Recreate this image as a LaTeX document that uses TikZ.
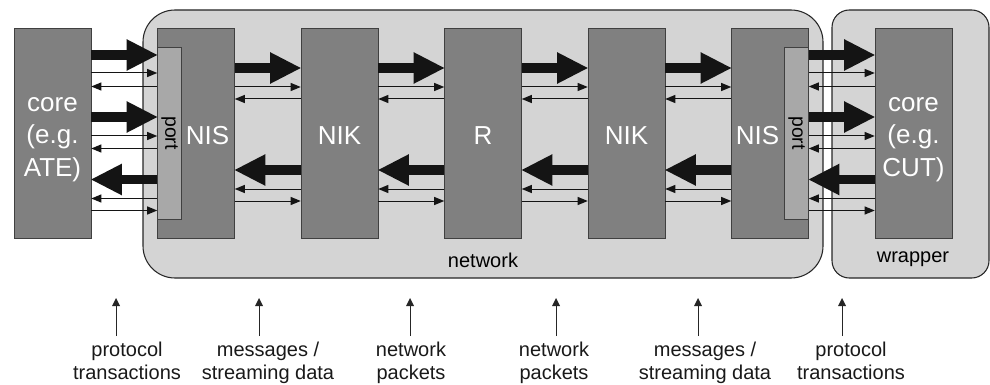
\documentclass[tikz,border=0pt]{standalone}
\usepackage{fontspec}
\setmainfont{Liberation Sans}
\usetikzlibrary{arrows.meta, positioning}
\definecolor{blkgray}{gray}{0.5}
\definecolor{portgray}{gray}{0.66}
\definecolor{framegray}{gray}{0.83}

\begin{document}
\begin{tikzpicture}[
    x=0.75pt, y=-0.75pt,
    every node/.style={font=\fontsize{15}{17.25}\selectfont},
    blk/.style={draw=black!75, fill=blkgray, minimum width=57.75pt,
                minimum height=157.5pt, inner sep=0pt},
    prt/.style={draw=black!75, fill=portgray, minimum width=18pt,
                minimum height=129pt, inner sep=0pt},
    frame/.style={draw=black!85, fill=framegray, line width=0.8pt,
                  minimum height=201pt},
    lbl/.style={text=white, align=center, font=\fontsize{19.5}{24.4}\selectfont},
    lvl/.style={align=center, inner sep=4.5pt, anchor=north, text=black!90},
    fatarr/.style={-{Triangle[length=23pt, width=23.8pt, line width=0pt]},
                   line width=6.9pt, black!92},
    thinarr/.style={-{Triangle[length=7.5pt, width=6.2pt, line width=0pt]},
                    line width=0.75pt, black!92},
    uparr/.style={-{Triangle[length=6pt, width=6pt, line width=0pt]},
                  line width=0.75pt, black!85},
]
    \useasboundingbox (0,0) rectangle (990,385);

    % Network and wrapper regions behind everything.
    \node[frame, rounded corners=24pt, minimum width=510pt] (net) at (483,144) {};
    \node[frame, rounded corners=13pt, minimum width=117.75pt] (wrp) at (910.5,144) {};
    \node (netlbl) at (483,260) {network};
    \node (wrplbl) at (913,259) {wrapper};

    % The chain of blocks, cores at both ends.
    \node[blk] (coreL) at (52.5,133) {};
    \node[blk] (nisL) at (196,133) {};
    \node[blk] (nikL) at (339.5,133) {};
    \node[blk] (rt) at (483,133) {};
    \node[blk] (nikR) at (626.5,133) {};
    \node[blk] (nisR) at (770,133) {};
    \node[blk] (coreR) at (913.5,133) {};

    % Ports on the outer sides of the two NIS.
    \node[prt, anchor=west] (portL) at (nisL.west) {};
    \node[prt, anchor=east] (portR) at (nisR.east) {};
    \node[rotate=-90, font=\fontsize{14.5}{17}\selectfont] (portLt) at (portL) {port};
    \node[rotate=-90, font=\fontsize{14.5}{17}\selectfont] (portRt) at (portR) {port};

    % Block labels.
    \node[lbl] (coreLt) at (52.5,139.5) {core\\(e.g.\\ATE)};
    \node[lbl] (nisLt) at (207.5,135.5) {NIS};
    \node[lbl] (nikLt) at (339.5,135.5) {NIK};
    \node[lbl] (rtt) at (483,135.5) {R};
    \node[lbl] (nikRt) at (626.5,135.5) {NIK};
    \node[lbl] (nisRt) at (757.5,135.5) {NIS};
    \node[lbl] (coreRt) at (913.5,139.5) {core\\(e.g.\\CUT)};

    % Links inside the network.
    \foreach \a/\b in {nisL/nikL, nikL/rt, rt/nikR, nikR/nisR} {
        \draw[fatarr] (\a.east |- 0,68) -- (\b.west |- 0,68);
        \draw[thinarr] (\a.east |- 0,87) -- (\b.west |- 0,87);
        \draw[thinarr] (\b.west |- 0,99) -- (\a.east |- 0,99);
        \draw[fatarr] (\b.west |- 0,170) -- (\a.east |- 0,170);
        \draw[thinarr] (\b.west |- 0,189) -- (\a.east |- 0,189);
        \draw[thinarr] (\a.east |- 0,201) -- (\b.west |- 0,201);
    }

    % Core to port links.
    \foreach \a/\b in {coreL/portL, portR/coreR} {
        \draw[fatarr] (\a.east |- 0,55) -- (\b.west |- 0,55);
        \draw[thinarr] (\a.east |- 0,73) -- (\b.west |- 0,73);
        \draw[thinarr] (\b.west |- 0,86.5) -- (\a.east |- 0,86.5);
        \draw[fatarr] (\a.east |- 0,117) -- (\b.west |- 0,117);
        \draw[thinarr] (\a.east |- 0,136) -- (\b.west |- 0,136);
        \draw[thinarr] (\b.west |- 0,148.5) -- (\a.east |- 0,148.5);
        \draw[fatarr] (\b.west |- 0,179.5) -- (\a.east |- 0,179.5);
        \draw[thinarr] (\b.west |- 0,198.5) -- (\a.east |- 0,198.5);
        \draw[thinarr] (\a.east |- 0,210.5) -- (\b.west |- 0,210.5);
    }

    % Abstraction levels along the bottom.
    \node[lvl] (lvlA) at (127,336) {protocol\\transactions};
    \node[lvl] (lvlB) at (268,336) {messages /\\streaming data};
    \node[lvl] (lvlC) at (411,336) {network\\packets};
    \node[lvl] (lvlD) at (554,336) {network\\packets};
    \node[lvl] (lvlE) at (705,336) {messages /\\streaming data};
    \node[lvl] (lvlF) at (851,336) {protocol\\transactions};
    \foreach \c/\x in {A/116, B/259, C/410, D/556, E/698, F/842} {
        \coordinate (tip\c) at (\x,298);
        \draw[uparr] (tip\c |- lvl\c.north) -- (tip\c);
    }
\end{tikzpicture}
\end{document}
